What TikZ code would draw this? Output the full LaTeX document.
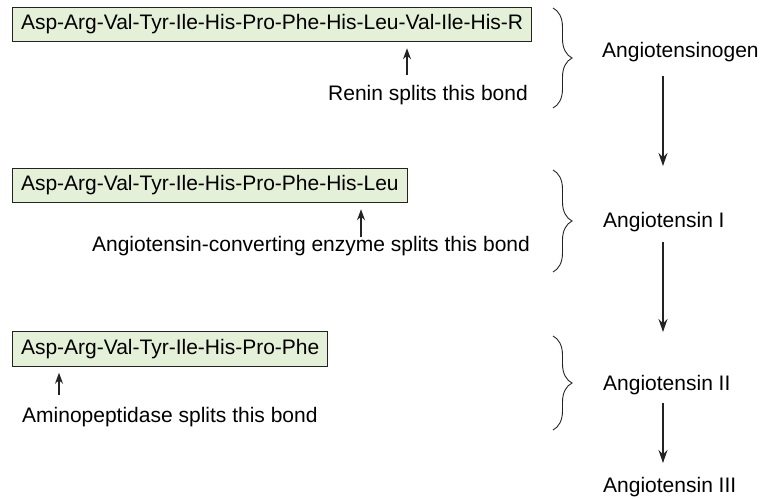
\documentclass[tikz,border=0pt]{standalone}
\usepackage{fontspec}
\setmainfont{Liberation Sans}
\usetikzlibrary{arrows.meta,decorations.pathreplacing,positioning}
\definecolor{seqfill}{RGB}{229,240,216}
\definecolor{ink}{RGB}{35,35,35}
\begin{document}
\begin{tikzpicture}[x=1pt, y=-1pt, font=\fontsize{21}{24}\selectfont,
    seqbox/.style={draw=ink, line width=1pt, fill=seqfill, anchor=west,
      inner xsep=8.5pt, inner ysep=7.5pt, text height=15pt, text depth=4.5pt},
    stage/.style={anchor=west, inner sep=2pt},
    cut/.style={-{Stealth[length=11pt, width=8pt]}, draw=ink, line width=1.2pt, shorten >=6pt},
    flow/.style={-{Stealth[length=13pt, width=9pt]}, draw=ink, line width=1.1pt},
    grp/.style={decorate, decoration={brace, amplitude=19pt}, draw=ink, line width=0.9pt}]
  \useasboundingbox (0,0) rectangle (763,498);
  % peptide chains
  \node[seqbox] (seq1) at (12,24.5) {Asp-Arg-Val-Tyr-Ile-His-Pro-Phe-His-Leu-Val-Ile-His-R};
  \node[seqbox] (seq2) at (12,185.5) {Asp-Arg-Val-Tyr-Ile-His-Pro-Phe-His-Leu};
  \node[seqbox] (seq3) at (12,349) {Asp-Arg-Val-Tyr-Ile-His-Pro-Phe};
  % enzymes
  \node (enz1) at (428,95) {Renin splits this bond};
  \node (enz2) at (311,246) {Angiotensin-converting enzyme splits this bond};
  \node[anchor=west, inner sep=0pt] (enz3) at (22,417) {Aminopeptidase splits this bond};
  \coordinate (c1) at (407,75);
  \coordinate (c2) at (361,237);
  \coordinate (c3) at (59,395);
  \draw[cut] (c1) -- (seq1.south -| c1);
  \draw[cut] (c2) -- (seq2.south -| c2);
  \draw[cut] (c3) -- (seq3.south -| c3);
  % braces
  \draw[grp] (553,8) -- (553,108);
  \draw[grp] (553,170) -- (553,272);
  \draw[grp] (553,336) -- (553,430);
  % stages
  \node[stage] (ang0) at (600,52) {Angiotensinogen};
  \node[stage] (ang1) at (601,222) {Angiotensin I};
  \node[stage] (ang2) at (601,385) {Angiotensin II};
  \node[stage] (ang3) at (601,487) {Angiotensin III};
  \coordinate (e1) at (663,166);
  \coordinate (e2) at (663,332);
  \coordinate (e3) at (663,463);
  \draw[flow] (ang0.south -| e1) ++(0,12) -- (e1);
  \draw[flow] (ang1.south -| e2) ++(0,8) -- (e2);
  \draw[flow] (ang2.south -| e3) ++(0,6) -- (e3);
\end{tikzpicture}
\end{document}
